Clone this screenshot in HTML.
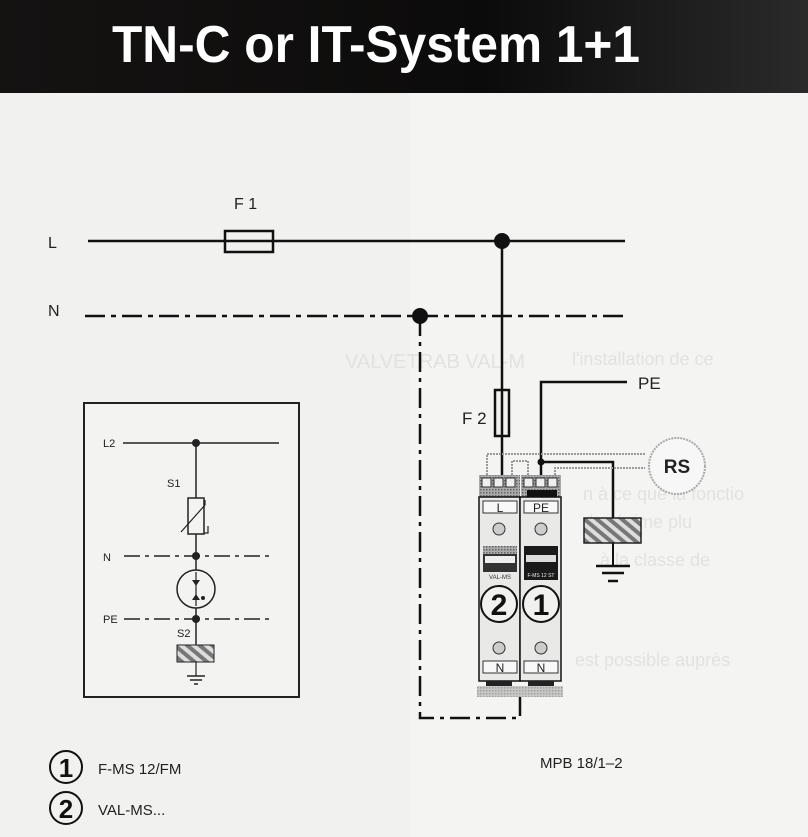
<!DOCTYPE html>
<html><head><meta charset="utf-8"><style>
html,body{margin:0;padding:0;background:#f1f1f0;}
svg{display:block}
</style></head><body>
<svg width="808" height="837" viewBox="0 0 808 837" xmlns="http://www.w3.org/2000/svg" font-family="Liberation Sans, Arial, sans-serif">
<defs>
<linearGradient id="hg" x1="0" x2="1" y1="0" y2="0">
<stop offset="0" stop-color="#151312"/><stop offset="0.6" stop-color="#0c0b0b"/><stop offset="1" stop-color="#2a2a2a"/>
</linearGradient>
<pattern id="hatch2" width="8" height="8" patternUnits="userSpaceOnUse" patternTransform="rotate(-50)">
<rect width="8" height="8" fill="#ddd"/><rect width="4" height="8" fill="#777"/>
</pattern>
<pattern id="dots" width="3" height="3" patternUnits="userSpaceOnUse">
<rect width="3" height="3" fill="#aaa"/><rect width="1.5" height="1.5" fill="#666"/>
</pattern>
</defs>
<rect x="0" y="0" width="808" height="837" fill="#f1f1f0"/>
<rect x="410" y="93" width="398" height="744" fill="#f4f4f3"/>
<rect x="0" y="0" width="808" height="93" fill="url(#hg)"/>
<text x="112" y="62" font-size="52" font-weight="bold" fill="#fff" textLength="528" lengthAdjust="spacingAndGlyphs">TN-C or IT-System 1+1</text>

<!-- ghost text -->
<g fill="#e2e2e1" font-size="18">
<text x="572" y="365">l'installation de ce</text>
<text x="345" y="368" font-size="20">VALVETRAB VAL-M</text>
<text x="583" y="500">n à ce que la fonctio</text>
<text x="583" y="528">de régime plu</text>
<text x="600" y="566">à la classe de</text>
<text x="575" y="666">est possible auprès</text>
</g>

<!-- L line -->
<text x="48" y="248" font-size="16" fill="#222">L</text>
<text x="234" y="209" font-size="16" fill="#222">F 1</text>
<line x1="88" y1="241" x2="625" y2="241" stroke="#111" stroke-width="2.5"/>
<rect x="225" y="231" width="48" height="21" fill="#f1f1f0" stroke="#111" stroke-width="2.5"/>
<line x1="225" y1="241" x2="273" y2="241" stroke="#111" stroke-width="2.5"/>
<circle cx="502" cy="241" r="8" fill="#111"/>

<!-- N line -->
<text x="48" y="316" font-size="16" fill="#222">N</text>
<line x1="85" y1="316" x2="625" y2="316" stroke="#111" stroke-width="2.5" stroke-dasharray="20 6 5 6"/>
<circle cx="420" cy="316" r="8" fill="#111"/>
<polyline points="420,316 420,718 520,718 520,697" fill="none" stroke="#111" stroke-width="2.5" stroke-dasharray="20 6 4 6"/>

<!-- F2 vertical -->
<line x1="502" y1="241" x2="502" y2="480" stroke="#111" stroke-width="2.5"/>
<rect x="495" y="390" width="14" height="46" fill="#f1f1f0" stroke="#111" stroke-width="2.5"/>
<line x1="502" y1="390" x2="502" y2="436" stroke="#111" stroke-width="2.5"/>
<text x="462" y="424" font-size="17" fill="#222">F 2</text>

<!-- PE -->
<polyline points="627,382 541,382 541,480" fill="none" stroke="#111" stroke-width="2.5"/>
<text x="638" y="389" font-size="17" fill="#222">PE</text>
<circle cx="541" cy="462" r="3.5" fill="#111"/>
<polyline points="541,462 613,462 613,519" fill="none" stroke="#111" stroke-width="2.5"/>
<rect x="584" y="518" width="57" height="25" fill="url(#hatch2)" stroke="#222" stroke-width="1.5"/>
<line x1="613" y1="543" x2="613" y2="566" stroke="#111" stroke-width="2"/>
<line x1="596" y1="566" x2="630" y2="566" stroke="#111" stroke-width="2.5"/>
<line x1="602" y1="573" x2="624" y2="573" stroke="#111" stroke-width="2.5"/>
<line x1="608" y1="581" x2="618" y2="581" stroke="#111" stroke-width="2.5"/>
<g fill="none" stroke="#999" stroke-width="2" stroke-dasharray="2 1">
<polyline points="487,475 487,454 645,454"/>
<polyline points="512,475 512,461 528,461 528,475"/>
<polyline points="555,475 555,468 645,468"/>
</g>
<circle cx="677" cy="466" r="28" fill="#f7f7f7" stroke="#aaa" stroke-width="2" stroke-dasharray="2 1"/>
<text x="677" y="473" font-size="19" font-weight="bold" text-anchor="middle" fill="#222">RS</text>

<!-- modules -->
<g>
<rect x="479" y="475" width="41" height="22" fill="url(#dots)"/>
<rect x="521" y="475" width="40" height="22" fill="url(#dots)"/>
<rect x="527" y="490" width="30" height="7" fill="#111"/>
<g fill="#eee" stroke="#333" stroke-width="1">
<rect x="482" y="478" width="9" height="9"/><rect x="494" y="478" width="9" height="9"/><rect x="506" y="478" width="9" height="9"/>
<rect x="524" y="478" width="9" height="9"/><rect x="536" y="478" width="9" height="9"/><rect x="548" y="478" width="9" height="9"/>
</g>
<rect x="479" y="497" width="41" height="184" fill="#e9e9e8" stroke="#111" stroke-width="1.5"/>
<rect x="520" y="497" width="41" height="184" fill="#e9e9e8" stroke="#111" stroke-width="1.5"/>
<rect x="483" y="501" width="34" height="12" fill="#f8f8f8" stroke="#333"/>
<rect x="524" y="501" width="34" height="12" fill="#f8f8f8" stroke="#333"/>
<text x="500" y="512" font-size="12" text-anchor="middle" fill="#222">L</text>
<text x="541" y="512" font-size="12" text-anchor="middle" fill="#222">PE</text>
<circle cx="499" cy="529" r="6" fill="#ccc" stroke="#333"/>
<circle cx="541" cy="529" r="6" fill="#ccc" stroke="#333"/>
<rect x="483" y="546" width="34" height="8" fill="url(#dots)"/>
<rect x="483" y="554" width="34" height="18" fill="#333"/>
<rect x="485" y="556" width="30" height="7" fill="#eee"/>
<text x="500" y="579" font-size="6" text-anchor="middle" fill="#333">VAL-MS</text>
<rect x="524" y="546" width="34" height="34" fill="#1a1a1a"/>
<rect x="526" y="555" width="30" height="7" fill="#ddd"/>
<text x="541" y="577" font-size="5" text-anchor="middle" fill="#eee">F-MS 12 ST</text>
<circle cx="499" cy="604" r="18" fill="#f1f1f0" stroke="#111" stroke-width="2"/>
<circle cx="541" cy="604" r="18" fill="#f1f1f0" stroke="#111" stroke-width="2"/>
<text x="499" y="615" font-size="30" font-weight="bold" text-anchor="middle" fill="#111">2</text>
<text x="541" y="615" font-size="30" font-weight="bold" text-anchor="middle" fill="#111">1</text>
<circle cx="499" cy="648" r="6" fill="#ccc" stroke="#333"/>
<circle cx="541" cy="648" r="6" fill="#ccc" stroke="#333"/>
<rect x="483" y="661" width="34" height="12" fill="#f8f8f8" stroke="#333"/>
<rect x="524" y="661" width="34" height="12" fill="#f8f8f8" stroke="#333"/>
<text x="500" y="672" font-size="12" text-anchor="middle" fill="#222">N</text>
<text x="541" y="672" font-size="12" text-anchor="middle" fill="#222">N</text>
<rect x="486" y="681" width="26" height="5" fill="#222"/>
<rect x="528" y="681" width="26" height="5" fill="#222"/>
<rect x="477" y="686" width="86" height="11" fill="url(#dots)" opacity="0.6"/>
</g>

<!-- left box -->
<rect x="84" y="403" width="215" height="294" fill="#f3f3f2" stroke="#222" stroke-width="2"/>
<g fill="#222" font-size="11">
<text x="103" y="447">L2</text>
<text x="167" y="487">S1</text>
<text x="103" y="561">N</text>
<text x="103" y="623">PE</text>
<text x="177" y="637">S2</text>
</g>
<line x1="123" y1="443" x2="279" y2="443" stroke="#222" stroke-width="1.5"/>
<line x1="124" y1="556" x2="274" y2="556" stroke="#222" stroke-width="1.5" stroke-dasharray="16 5 4 5"/>
<line x1="124" y1="619" x2="274" y2="619" stroke="#222" stroke-width="1.5" stroke-dasharray="16 5 4 5"/>
<line x1="196" y1="443" x2="196" y2="645" stroke="#222" stroke-width="1.5"/>
<rect x="188" y="498" width="16" height="36" fill="#f3f3f2" stroke="#222" stroke-width="1.5"/>
<polyline points="181,532 205,505 205,500" fill="none" stroke="#222" stroke-width="1.2"/>
<polyline points="204,533 208,533 208,526" fill="none" stroke="#222" stroke-width="1.2"/>
<circle cx="196" cy="589" r="19" fill="#f3f3f2" stroke="#222" stroke-width="1.5"/>
<line x1="196" y1="572" x2="196" y2="606" stroke="#222" stroke-width="1.2"/>
<polygon points="192,580 200,580 196,586" fill="#222"/>
<polygon points="192,600 200,600 196,594" fill="#222"/>
<circle cx="203" cy="598" r="2" fill="#222"/>
<circle cx="196" cy="443" r="4" fill="#222"/>
<circle cx="196" cy="556" r="4" fill="#222"/>
<circle cx="196" cy="619" r="4" fill="#222"/>
<rect x="177" y="645" width="37" height="17" fill="url(#hatch2)" stroke="#222"/>
<line x1="196" y1="662" x2="196" y2="676" stroke="#222" stroke-width="1.2"/>
<line x1="187" y1="676" x2="205" y2="676" stroke="#222" stroke-width="1.5"/>
<line x1="190" y1="680" x2="202" y2="680" stroke="#222" stroke-width="1.5"/>
<line x1="194" y1="684" x2="198" y2="684" stroke="#222" stroke-width="1.5"/>

<!-- legend -->
<circle cx="66" cy="767" r="16" fill="none" stroke="#111" stroke-width="2"/>
<text x="66" y="777" font-size="26" font-weight="bold" text-anchor="middle" fill="#111">1</text>
<circle cx="66" cy="808" r="16" fill="none" stroke="#111" stroke-width="2"/>
<text x="66" y="818" font-size="26" font-weight="bold" text-anchor="middle" fill="#111">2</text>
<text x="98" y="774" font-size="15" fill="#222">F-MS 12/FM</text>
<text x="98" y="815" font-size="15" fill="#222">VAL-MS...</text>
<text x="540" y="768" font-size="15" fill="#222">MPB 18/1–2</text>
</svg>
</body></html>
